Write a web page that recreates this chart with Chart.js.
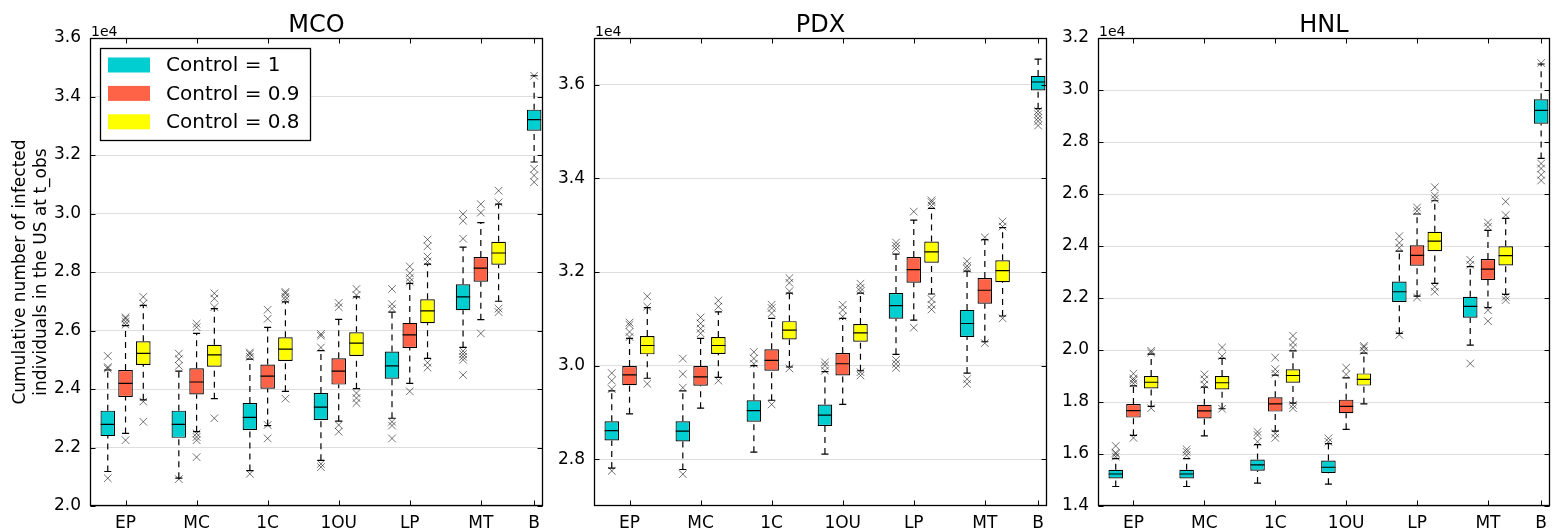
<!DOCTYPE html>
<html>
<head>
<meta charset="utf-8">
<title>Cumulative infections by control scenario</title>
<script src="https://cdn.jsdelivr.net/npm/chart.js@4.4.1/dist/chart.umd.min.js"></script>
<style>
  html, body { margin: 0; padding: 0; background: #fff; width: 1559px; height: 529px; overflow: hidden; }
  canvas { position: absolute; top: 0; }
</style>
</head>
<body>
<canvas id="mco" width="560" height="529" style="left:0px"></canvas>
<canvas id="pdx" width="510" height="529" style="left:550px"></canvas>
<canvas id="hnl" width="509" height="529" style="left:1050px"></canvas>
<script>
// ---- data -------------------------------------------------------------
const categories = ['EP', 'MC', '1C', '1OU', 'LP', 'MT', 'B'];
const controlLabels = ['Control = 1', 'Control = 0.9', 'Control = 0.8'];
const yAxisTitle = ['Cumulative number of infected', 'individuals in the US at t_obs'];

// each box: [lower whisker, Q1, median, Q3, upper whisker]
const mcoControl1 = [
  [21180, 22390, 22790, 23260, 24650], [20950, 22330, 22790, 23260, 24610],
  [21210, 22600, 23030, 23520, 25020], [21560, 22940, 23380, 23860, 25310],
  [23000, 24350, 24790, 25280, 26630], [25420, 26690, 27150, 27580, 28850],
  [31760, 32830, 33210, 33550, 34710]
];
const mcoControl09 = [
  [22480, 23730, 24190, 24650, 26170], [22540, 23810, 24240, 24710, 25900],
  [22750, 24010, 24440, 24840, 26110], [22900, 24150, 24610, 25050, 26380],
  [24190, 25400, 25850, 26260, 27610], [26370, 27670, 28130, 28510, 29690]
];
const mcoControl08 = [
  [23630, 24820, 25220, 25630, 26860], [23670, 24760, 25170, 25510, 26750],
  [23920, 24960, 25360, 25770, 26980], [24010, 25130, 25570, 25940, 27150],
  [25050, 26250, 26670, 27070, 28270], [27000, 28250, 28650, 29030, 30320]
];
const mcoOut1 = [
  [20950, 24700, 24750, 25130], [20920, 24790, 25020, 25210], [21100, 25100, 25200, 25250],
  [21330, 21440, 25420, 25820, 25880], [22310, 22750, 22880, 26750, 26900, 27420],
  [24480, 25000, 25100, 25200, 25300, 29140, 29750, 29980], [31070, 31300, 31530, 34710]
];
const mcoOut09 = [
  [22250, 26200, 26300, 26400, 26450], [21670, 22250, 22360, 22480, 26110, 26230],
  [22310, 22770, 26400, 26710], [22540, 22770, 26800, 26940],
  [23920, 27670, 27800, 27960, 28190], [25900, 30030, 30320]
];
const mcoOut08 = [
  [22880, 23570, 26920, 27150], [23000, 26800, 27090, 27270], [23670, 27050, 27150, 27270, 27320],
  [23520, 23690, 23860, 27210, 27420], [24730, 24900, 28360, 28530, 28880, 29110],
  [26630, 26750, 30380, 30780]
];

const pdxControl1 = [
  [27810, 28400, 28610, 28810, 29460], [27780, 28380, 28600, 28810, 29460],
  [28150, 28800, 29040, 29260, 30000], [28110, 28710, 28940, 29170, 29870],
  [30240, 31000, 31280, 31550, 32380], [29840, 30610, 30900, 31190, 32020],
  [35490, 35880, 36060, 36190, 36550]
];
const pdxControl09 = [
  [28970, 29580, 29800, 29990, 30580], [29090, 29570, 29760, 29990, 30580],
  [29260, 29890, 30110, 30350, 31010], [29170, 29790, 30040, 30270, 31010],
  [30970, 31770, 32050, 32320, 33110], [30510, 31320, 31610, 31870, 32690]
];
const pdxControl08 = [
  [29730, 30240, 30430, 30630, 31240], [29750, 30250, 30430, 30610, 31150],
  [29970, 30560, 30760, 30950, 31550], [29890, 30510, 30700, 30890, 31550],
  [31530, 32200, 32430, 32650, 33360], [31060, 31780, 32030, 32250, 32950]
];
const pdxOut1 = [
  [27750, 29500, 29680, 29840], [27680, 29530, 29820, 30150], [30040, 30150, 30290],
  [29890, 30000, 30070], [29950, 30040, 30120, 32490, 32560, 32630],
  [29610, 29710, 32070, 32130, 32230], [35130, 35220, 35290, 35370, 35440]
];
const pdxOut09 = [
  [30610, 30720, 30870, 30920], [30690, 30790, 30900, 31030], [29170, 31120, 31230, 31300],
  [31050, 31190, 31300], [30810, 33290], [30480, 32740]
];
const pdxOut08 = [
  [29610, 31260, 31480], [29680, 31260, 31390], [29940, 31590, 31770, 31870],
  [29790, 29860, 31590, 31660, 31750], [31200, 31300, 31420, 33420, 33490, 33530],
  [31010, 32970, 33080]
];

const hnlControl1 = [
  [14750, 15060, 15230, 15390, 15820], [14750, 15060, 15230, 15390, 15820],
  [14880, 15360, 15580, 15790, 16360], [14840, 15270, 15490, 15750, 16400],
  [20640, 21850, 22240, 22630, 23800], [20190, 21240, 21680, 22050, 23210],
  [27370, 28700, 29220, 29640, 31000]
];
const hnlControl09 = [
  [16720, 17400, 17670, 17920, 18620], [16700, 17370, 17660, 17890, 18570],
  [16880, 17630, 17930, 18180, 19030], [16950, 17570, 17830, 18090, 18930],
  [22070, 23240, 23640, 24030, 25230], [21630, 22690, 23110, 23500, 24600]
];
const hnlControl08 = [
  [17830, 18520, 18760, 19000, 19840], [17740, 18480, 18740, 19000, 19680],
  [17960, 18740, 19020, 19260, 19970], [17930, 18630, 18870, 19100, 19880],
  [22560, 23800, 24190, 24550, 25740], [22140, 23250, 23630, 23990, 25060]
];
const hnlOut1 = [
  [15900, 16000, 16050, 16310], [15950, 16080, 16180], [16470, 16730, 16850],
  [16470, 16600], [20580, 23930, 24120, 24380], [19480, 23280, 23470],
  [26520, 26740, 26980, 27170, 31040]
];
const hnlOut09 = [
  [16620, 18720, 18830, 18900, 19090], [18670, 18870, 19060], [16620, 16790, 19090, 19260, 19710],
  [19060, 19320], [22020, 25350, 25480], [21110, 21530, 24740, 24900]
];
const hnlOut08 = [
  [17760, 19900, 19970], [17740, 19770, 20100], [17760, 17890, 20100, 20290, 20550],
  [19970, 20100, 20160], [22240, 22430, 25810, 25940, 26260], [21920, 22050, 25190, 25710]
];

const mcoTicks = [20000, 22000, 24000, 26000, 28000, 30000, 32000, 34000, 36000];
const pdxTicks = [28000, 30000, 32000, 34000, 36000];
const hnlTicks = [14000, 16000, 18000, 20000, 22000, 24000, 26000, 28000, 30000, 32000];

// ---- layout & style ---------------------------------------------------
const seriesColors = ['#00CED1', '#FF6347', '#FFFF00'];
const catPos = categories.map((c, i) => (i < 6 ? i + 1 : 6.75));
const BOX_STEP = 0.25, BOX_HALF = 0.1, CAP_HALF = 0.05;
const FONT = '"DejaVu Sans", "Liberation Sans", sans-serif';

function makeBoxes(stats, outs) {
  const boxes = [];
  categories.forEach((cat, g) => {
    const present = stats.map((s, i) => i).filter(i => stats[i][g]);
    present.forEach((s, k) => {
      const [lo, q1, med, q3, hi] = stats[s][g];
      boxes.push({
        x: catPos[g] + (k - (present.length - 1) / 2) * BOX_STEP,
        lo, q1, med, q3, hi, out: outs[s][g], color: seriesColors[s]
      });
    });
  });
  return boxes;
}

const decor = {
  id: 'decor',
  afterDraw(chart, args, o) {
    const { ctx, chartArea: a, scales: { x, y } } = chart;
    const L = Math.round(a.left) + 0.5, R = Math.round(a.right) - 0.5;
    const T = Math.round(a.top) + 0.5, B = Math.round(a.bottom) - 0.5;
    ctx.save();
    ctx.strokeStyle = '#000';
    ctx.lineWidth = 1;
    ctx.beginPath();
    catPos.forEach(v => {
      const px = Math.round(x.getPixelForValue(v)) + 0.5;
      ctx.moveTo(px, B); ctx.lineTo(px, B - 5);
      ctx.moveTo(px, T); ctx.lineTo(px, T + 5);
    });
    o.yTicks.forEach(v => {
      const py = Math.round(y.getPixelForValue(v)) + 0.5;
      ctx.moveTo(L, py); ctx.lineTo(L + 5, py);
      ctx.moveTo(R, py); ctx.lineTo(R - 5, py);
    });
    ctx.stroke();
    ctx.lineWidth = 1.3;
    ctx.strokeRect(L, T, R - L, B - T);

    ctx.fillStyle = '#000';
    ctx.textBaseline = 'alphabetic';
    ctx.textAlign = 'center';
    ctx.font = '24px ' + FONT;
    ctx.fillText(o.title, (a.left + a.right) / 2, 32);
    ctx.textAlign = 'left';
    ctx.font = '14px ' + FONT;
    ctx.fillText('1e4', a.left + 1, 36);

    if (o.showAxisTitle) {
      ctx.font = '17px ' + FONT;
      ctx.textAlign = 'center';
      const cy = (a.top + a.bottom) / 2;
      [25, 46].forEach((bx, i) => {
        ctx.save();
        ctx.translate(bx, cy);
        ctx.rotate(-Math.PI / 2);
        ctx.fillText(yAxisTitle[i], 0, 0);
        ctx.restore();
      });
    }

    if (o.showLegend) {
      const lx = 100, ly = 48, lw = 210, lh = 92;
      ctx.fillStyle = '#fff';
      ctx.fillRect(lx, ly, lw, lh);
      ctx.strokeStyle = '#000';
      ctx.lineWidth = 1.3;
      ctx.strokeRect(lx + 0.5, ly + 0.5, lw, lh);
      ctx.font = '20px ' + FONT;
      ctx.textAlign = 'left';
      ctx.textBaseline = 'middle';
      controlLabels.forEach((lab, i) => {
        const cyRow = 65 + i * 28.4;
        ctx.fillStyle = seriesColors[i];
        ctx.fillRect(108, cyRow - 7.5, 42, 15);
        ctx.fillStyle = '#000';
        ctx.fillText(lab, 166, cyRow + 1);
      });
    }
    ctx.restore();
  }
};

function buildPanel(id, title, stats, outs, yMin, yMax, yTicks, yWidth, padRight, extras) {
  const boxes = makeBoxes(stats, outs);
  const whiskers = [], caps = [], medians = [], fliers = [];
  boxes.forEach(b => {
    whiskers.push({ x: b.x, y: b.lo }, { x: b.x, y: b.q1 }, { x: b.x, y: null },
                  { x: b.x, y: b.q3 }, { x: b.x, y: b.hi }, { x: b.x, y: null });
    caps.push({ x: b.x - CAP_HALF, y: b.lo }, { x: b.x + CAP_HALF, y: b.lo }, { x: b.x, y: null },
              { x: b.x - CAP_HALF, y: b.hi }, { x: b.x + CAP_HALF, y: b.hi }, { x: b.x, y: null });
    medians.push({ x: b.x - BOX_HALF, y: b.med }, { x: b.x + BOX_HALF, y: b.med }, { x: b.x, y: null });
    b.out.forEach(v => fliers.push({ x: b.x, y: v }));
  });

  return new Chart(document.getElementById(id), {
    type: 'bar',
    data: {
      datasets: [
        {
          type: 'bar', order: 3,
          data: boxes.map(b => ({ x: b.x, y: [b.q1, b.q3] })),
          backgroundColor: boxes.map(b => b.color),
          borderColor: '#000', borderWidth: 1.2, borderSkipped: false,
          categoryPercentage: 1, barPercentage: 0.82
        },
        {
          type: 'line', order: 4, data: whiskers,
          borderColor: '#000', borderWidth: 1.2, borderDash: [6, 5],
          pointRadius: 0, spanGaps: false, fill: false
        },
        {
          type: 'line', order: 2, data: caps,
          borderColor: '#000', borderWidth: 1.2, pointRadius: 0, spanGaps: false, fill: false
        },
        {
          type: 'line', order: 1, data: medians,
          borderColor: '#000', borderWidth: 1.2, pointRadius: 0, spanGaps: false, fill: false
        },
        {
          type: 'scatter', order: 0, data: fliers,
          pointStyle: 'crossRot', pointRadius: 5.4, pointBorderWidth: 1,
          pointBorderColor: 'rgba(0,0,0,0.55)', borderColor: 'rgba(0,0,0,0.55)'
        }
      ]
    },
    options: {
      responsive: false,
      animation: false,
      devicePixelRatio: 1,
      events: [],
      layout: { padding: { top: 38, right: padRight, bottom: 0, left: 0 } },
      plugins: {
        legend: { display: false },
        tooltip: { enabled: false },
        decor: Object.assign({ title, yTicks }, extras)
      },
      scales: {
        x: {
          type: 'linear', min: 0.5, max: 6.875, offset: false,
          afterBuildTicks: s => { s.ticks = catPos.map(v => ({ value: v })); },
          afterFit: s => { s.height = 23; },
          grid: { display: false, drawTicks: false },
          border: { display: false },
          ticks: {
            autoSkip: false, maxRotation: 0, padding: 7, color: '#000',
            font: { family: FONT, size: 17 },
            callback: v => categories[catPos.indexOf(v)]
          }
        },
        y: {
          type: 'linear', min: yMin, max: yMax,
          afterBuildTicks: s => { s.ticks = yTicks.map(v => ({ value: v })); },
          afterFit: s => { s.width = yWidth; },
          grid: { color: '#dedede', lineWidth: 1, drawTicks: false },
          border: { display: false },
          ticks: {
            padding: 9, color: '#000',
            font: { family: FONT, size: 17 },
            callback: v => (v / 1e4).toFixed(1)
          }
        }
      }
    },
    plugins: [decor]
  });
}

buildPanel('mco', 'MCO', [mcoControl1, mcoControl09, mcoControl08], [mcoOut1, mcoOut09, mcoOut08],
           20000, 36000, mcoTicks, 90, 17, { showAxisTitle: true, showLegend: true });
buildPanel('pdx', 'PDX', [pdxControl1, pdxControl09, pdxControl08], [pdxOut1, pdxOut09, pdxOut08],
           27000, 37000, pdxTicks, 44, 13, {});
buildPanel('hnl', 'HNL', [hnlControl1, hnlControl09, hnlControl08], [hnlOut1, hnlOut09, hnlOut08],
           14000, 32000, hnlTicks, 48, 9, {});
</script>
</body>
</html>
